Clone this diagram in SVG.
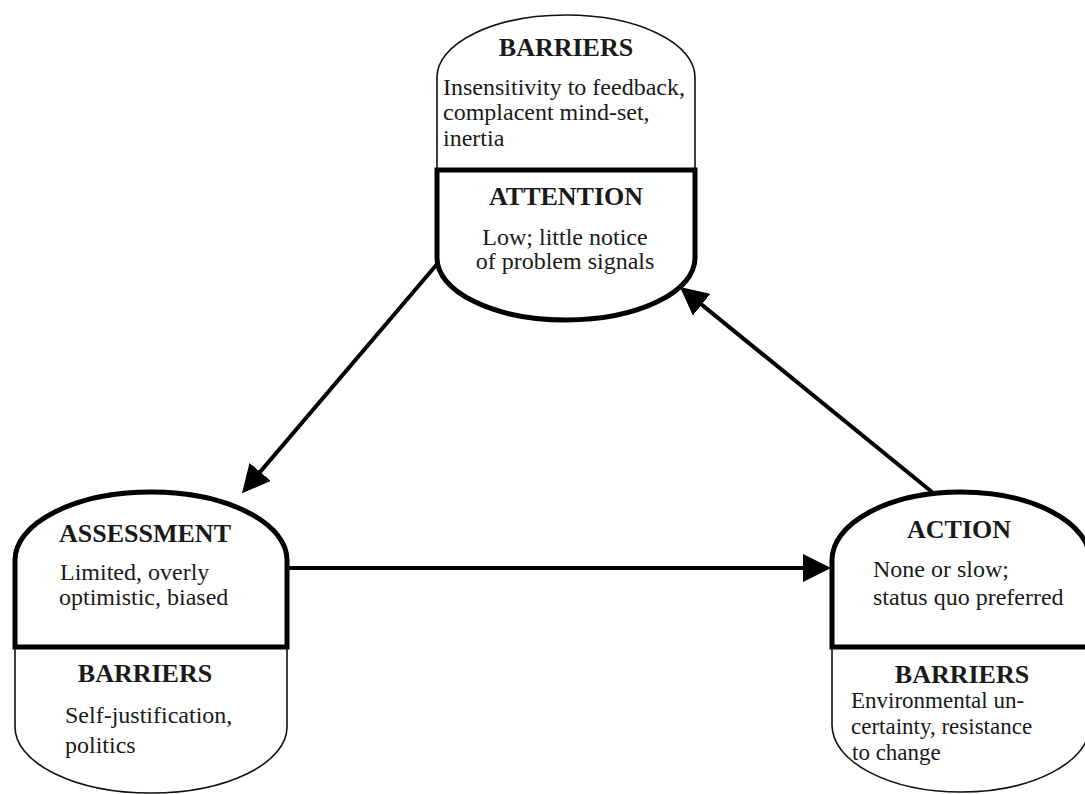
<svg xmlns="http://www.w3.org/2000/svg" width="1085" height="794" viewBox="0 0 1085 794">
<style>
.thin{fill:none;stroke:#111;stroke-width:1.6}
.thick{fill:none;stroke:#000;stroke-width:5;stroke-linejoin:miter}
.conn{fill:none;stroke:#000;stroke-width:4}
text{font-family:"Liberation Serif","Times New Roman",serif;fill:#1a1a1a}
.h{font-size:26px;font-weight:bold;text-anchor:middle}
.b{font-size:24px}
.s{font-size:23px}
</style>
<defs>
<marker id="ah" markerUnits="userSpaceOnUse" markerWidth="30" markerHeight="28" viewBox="0 0 30 28" refX="8" refY="14" orient="auto">
<path d="M0,0 L28,14 L0,28 Z" fill="#000"/>
</marker>
</defs>
<rect width="1085" height="794" fill="#fff"/>
<g id="attention">
<path class="thin" d="M437,170 L437,77 A129,62 0 0 1 695,77 L695,170"/>
<path class="thick" d="M437,170 L695,170 L695,258 A129,62 0 0 1 437,258 Z"/>
<text class="h" x="566" y="56">BARRIERS</text>
<text class="b" x="443" y="95">Insensitivity to feedback,</text>
<text class="b" x="443" y="120">complacent mind-set,</text>
<text class="b" x="443" y="146">inertia</text>
<text class="h" x="566" y="205">ATTENTION</text>
<text class="b" x="565" y="245" text-anchor="middle">Low; little notice</text>
<text class="b" x="565" y="269" text-anchor="middle">of problem signals</text>
</g>
<g id="assessment">
<path class="thick" d="M15,647 L15,560 A136,68 0 0 1 287,560 L287,647 Z"/>
<path class="thin" d="M15,647 L15,727 A136,66 0 0 0 287,727 L287,647"/>
<text class="h" x="145" y="542">ASSESSMENT</text>
<text class="b" x="60" y="580">Limited, overly</text>
<text class="b" x="59" y="605">optimistic, biased</text>
<text class="h" x="145" y="682">BARRIERS</text>
<text class="b" x="65" y="723">Self-justification,</text>
<text class="b" x="65" y="753">politics</text>
</g>
<g id="action">
<path class="thick" d="M832,647 L832,560 A129,68 0 0 1 1090,560 L1090,647 Z"/>
<path class="thin" d="M832,647 L832,725 A129,67 0 0 0 1090,725 L1090,647"/>
<text class="h" x="959" y="538">ACTION</text>
<text class="b" x="873" y="577">None or slow;</text>
<text class="b" x="873" y="605">status quo preferred</text>
<text class="h" x="962" y="683">BARRIERS</text>
<text class="s" x="851" y="708">Environmental un-</text>
<text class="s" x="851" y="734">certainty, resistance</text>
<text class="s" x="852" y="760">to change</text>
</g>
<g id="connectors">
<line class="conn" x1="438" y1="263" x2="255" y2="478" marker-end="url(#ah)"/>
<line class="conn" x1="287" y1="568" x2="811" y2="568" marker-end="url(#ah)"/>
<line class="conn" x1="932" y1="492" x2="695.5" y2="299.6" marker-end="url(#ah)"/>
</g>
</svg>
